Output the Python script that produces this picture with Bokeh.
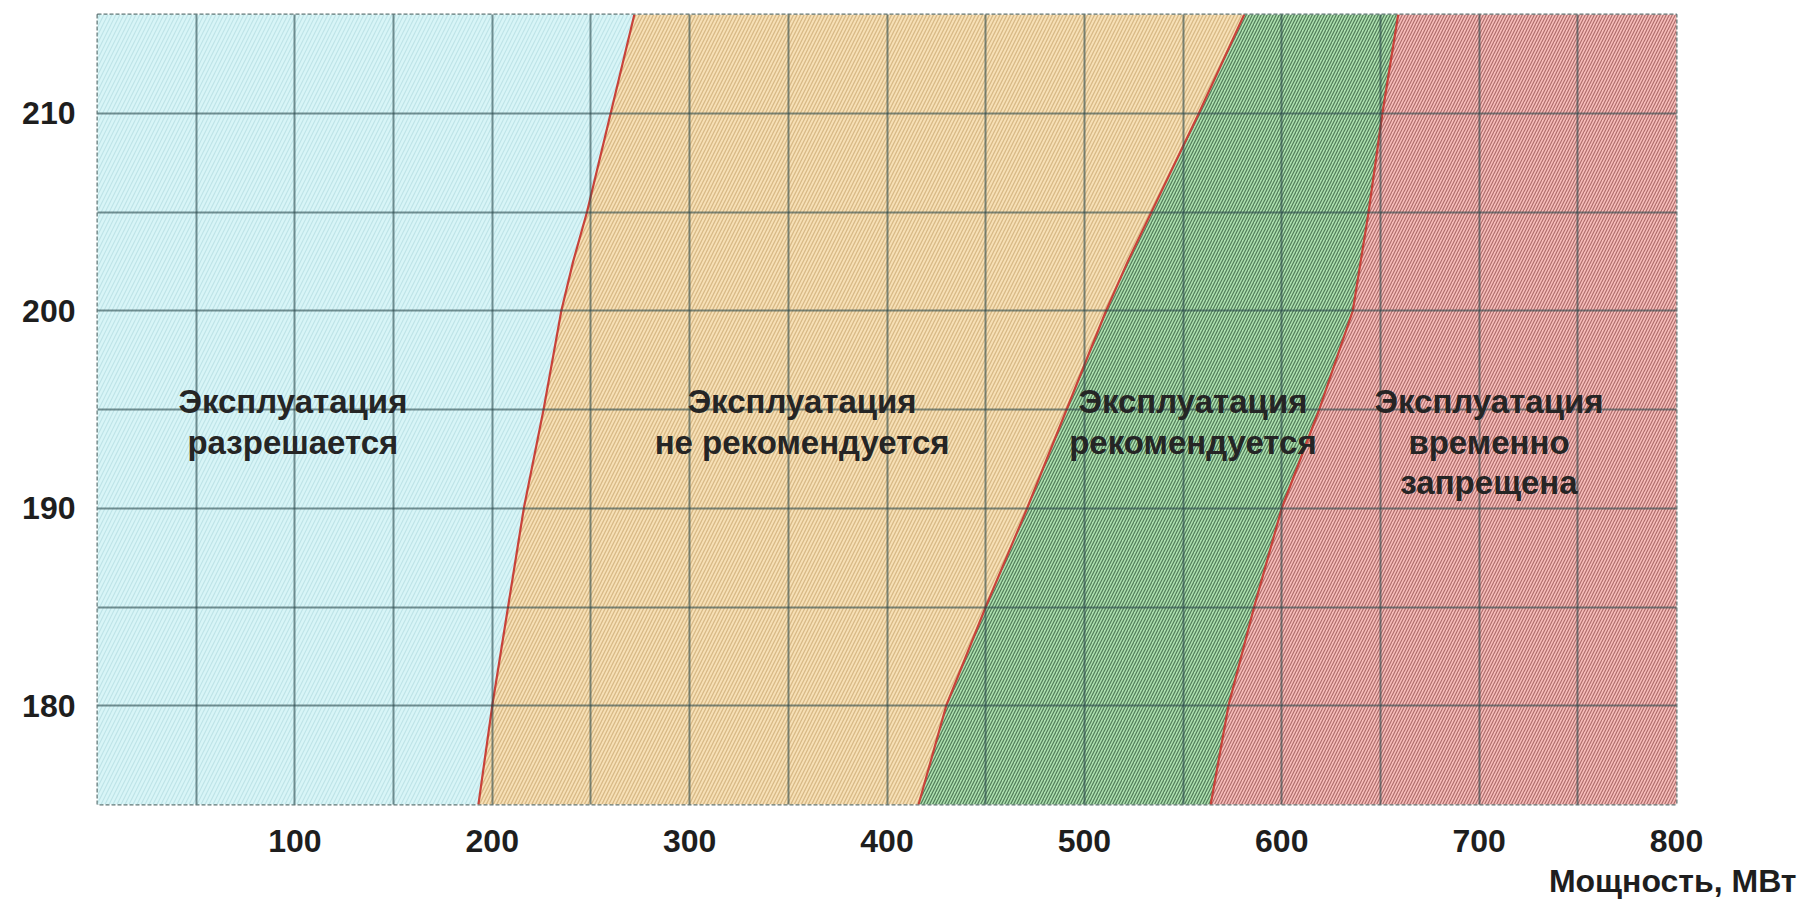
from bokeh.plotting import figure
from bokeh.models import Range1d, FixedTicker, Title
from bokeh.core.properties import value
from bokeh.embed import file_html
from bokeh.resources import INLINE

# ---------------- data ----------------
temperature = [175, 180, 185, 190, 195, 200, 202.5, 205, 210, 215]
# boundary power (MW) at each temperature
bound_allowed = [193, 200, 208, 216, 226, 235, 241, 248, 260, 272]      # разрешается | не рекомендуется
bound_not_recommended = [416, 430, 450, 471, 491, 511, 522, 534, 558, 581]  # не рекомендуется | рекомендуется
bound_recommended = [564, 573, 586, 600, 619, 636, 640, 644, 651, 659]   # рекомендуется | запрещена

x_ticks = [100, 200, 300, 400, 500, 600, 700, 800]
y_ticks = [180, 190, 200, 210]
x_grid = [50, 100, 150, 200, 250, 300, 350, 400, 450, 500, 550, 600, 650, 700, 750]
y_grid = [180, 185, 190, 195, 200, 205, 210]

zone_texts = [
    ["Эксплуатация", "разрешается"],
    ["Эксплуатация", "не рекомендуется"],
    ["Эксплуатация", "рекомендуется"],
    ["Эксплуатация", "временно", "запрещена"],
]
x_label = "Мощность, МВт"

# ---------------- layout ----------------
X_MIN, X_MAX = 0, 800
Y_MIN, Y_MAX = 175, 215
zone_text_x = [99, 357, 555, 705]
zone_text_y0 = 195.4
line_step = 2.05

FONT = "Liberation Sans"

p = figure(width=1804, height=904, output_backend="svg", toolbar_location=None,
           x_range=Range1d(X_MIN, X_MAX), y_range=Range1d(Y_MIN, Y_MAX),
           min_border_left=97, min_border_right=128, min_border_top=14, min_border_bottom=99)
p.background_fill_color = "white"
p.border_fill_color = "white"

t = temperature
rt = temperature[::-1]

# zones
p.patch([X_MIN, X_MIN] + bound_allowed[::-1], [Y_MIN, Y_MAX] + rt,
        fill_color="#d8f5f7", line_color=None,
        hatch_pattern="/", hatch_color="#aed9dd", hatch_alpha=0.6, hatch_scale=8, hatch_weight=1.2)
p.patch(bound_allowed + bound_not_recommended[::-1], t + rt,
        fill_color="#f7e0b6", line_color=None,
        hatch_pattern="/", hatch_color="#c39f66", hatch_alpha=0.6, hatch_scale=7, hatch_weight=1.3)
p.patch(bound_not_recommended + bound_recommended[::-1], t + rt,
        fill_color="#aee2b0", line_color=None,
        hatch_pattern="/", hatch_color="#30583a", hatch_alpha=0.72, hatch_scale=6, hatch_weight=1.25)
p.patch(bound_recommended + [X_MAX, X_MAX], t + [Y_MAX, Y_MIN],
        fill_color="#f8bebb", line_color=None,
        hatch_pattern="/", hatch_color="#8c4746", hatch_alpha=0.68, hatch_scale=6, hatch_weight=1.2)

# boundary curves
for b in (bound_allowed, bound_not_recommended, bound_recommended):
    p.line(b, t, line_color="#c8423a", line_width=2.2)

# grid on top of the fills
p.xgrid.ticker = FixedTicker(ticks=x_grid)
p.ygrid.ticker = FixedTicker(ticks=y_grid)
for g in (p.xgrid, p.ygrid):
    g.grid_line_color = "#2c4a4c"
    g.grid_line_alpha = 0.6
    g.grid_line_width = 2
    g.level = "guide"

p.outline_line_color = "#5f7475"
p.outline_line_width = 2
p.outline_line_dash = "4 2"

# axes
p.xaxis.ticker = FixedTicker(ticks=x_ticks)
p.yaxis.ticker = FixedTicker(ticks=y_ticks)
for ax in (p.xaxis, p.yaxis):
    ax.axis_line_color = None
    ax.major_tick_line_color = None
    ax.minor_tick_line_color = None
    ax.major_tick_out = 0
    ax.major_tick_in = 0
    ax.major_label_text_font = FONT
    ax.major_label_text_font_style = "bold"
    ax.major_label_text_font_size = "32px"
    ax.major_label_text_color = "#1e1e1e"
    ax.major_label_standoff = 22
p.xaxis.major_label_standoff = 25

# zone captions
for zx, lines in zip(zone_text_x, zone_texts):
    ys = [zone_text_y0 - i * line_step for i in range(len(lines))]
    p.text(x=[zx] * len(lines), y=ys, text=lines,
           text_font=value(FONT), text_font_style="bold", text_font_size="33px",
           text_color="#252525", text_align="center", text_baseline="middle",
           level="annotation")

# x axis title, right aligned below the tick labels
p.add_layout(Title(text=x_label, align="right", offset=-120, standoff=12,
                   text_font=FONT, text_font_style="bold", text_font_size="32px",
                   text_color="#1e1e1e"), "below")

open("out.html", "w").write(file_html(p, INLINE))
